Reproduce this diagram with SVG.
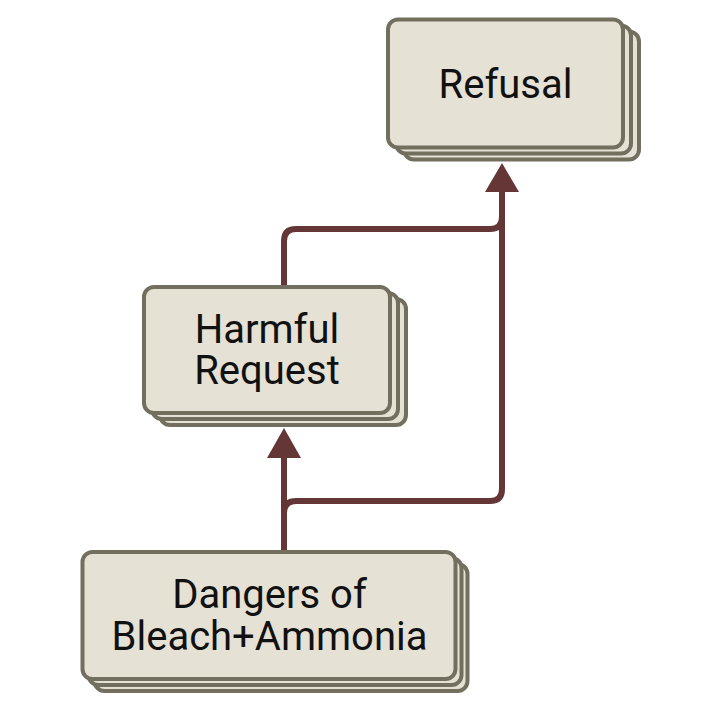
<svg xmlns="http://www.w3.org/2000/svg" width="720" height="720" viewBox="0 0 720 720">
  <style>
    .card { fill: #e5e1d5; stroke: #726f5f; stroke-width: 4; }
    .label { font-family: Roboto, "Liberation Sans", sans-serif; font-size: 40px; fill: #111111; text-anchor: middle; }
    .edge { fill: none; stroke: #653636; stroke-width: 6; }
    .head { fill: #653636; stroke: none; }
  </style>
  <rect width="720" height="720" fill="#ffffff"/>
  <g id="connectors">
    <path class="edge" d="M284 552 V456"/>
    <polygon class="head" points="284,428 267,458 301,458"/>
    <path class="edge" d="M284 552 V513 Q284 501 296 501 H490 Q502 501 502 489 V190"/>
    <path class="edge" d="M284 287 V241 Q284 229 296 229 H490 Q502 229 502 217"/>
    <polygon class="head" points="502,163 485,192 519,192"/>
  </g>
  <g id="node-refusal">
    <rect class="card" x="404" y="31.5" width="235" height="128" rx="10"/>
    <rect class="card" x="396" y="25.5" width="235" height="128" rx="10"/>
    <rect class="card" x="388" y="19.5" width="235" height="128" rx="10"/>
    <text class="label" x="505.5" y="97.5">Refusal</text>
  </g>
  <g id="node-harmful">
    <rect class="card" x="160" y="299" width="246" height="126" rx="10"/>
    <rect class="card" x="152" y="293" width="246" height="126" rx="10"/>
    <rect class="card" x="144" y="287" width="246" height="126" rx="10"/>
    <text class="label"><tspan x="267" y="342.5">Harmful</tspan><tspan x="267" y="384">Request</tspan></text>
  </g>
  <g id="node-dangers">
    <rect class="card" x="94.5" y="564" width="373" height="127" rx="10"/>
    <rect class="card" x="88.5" y="558" width="373" height="127" rx="10"/>
    <rect class="card" x="82.5" y="552" width="373" height="127" rx="10"/>
    <text class="label"><tspan x="269.5" y="608">Dangers of</tspan><tspan x="269.5" y="649.5">Bleach+Ammonia</tspan></text>
  </g>
</svg>
